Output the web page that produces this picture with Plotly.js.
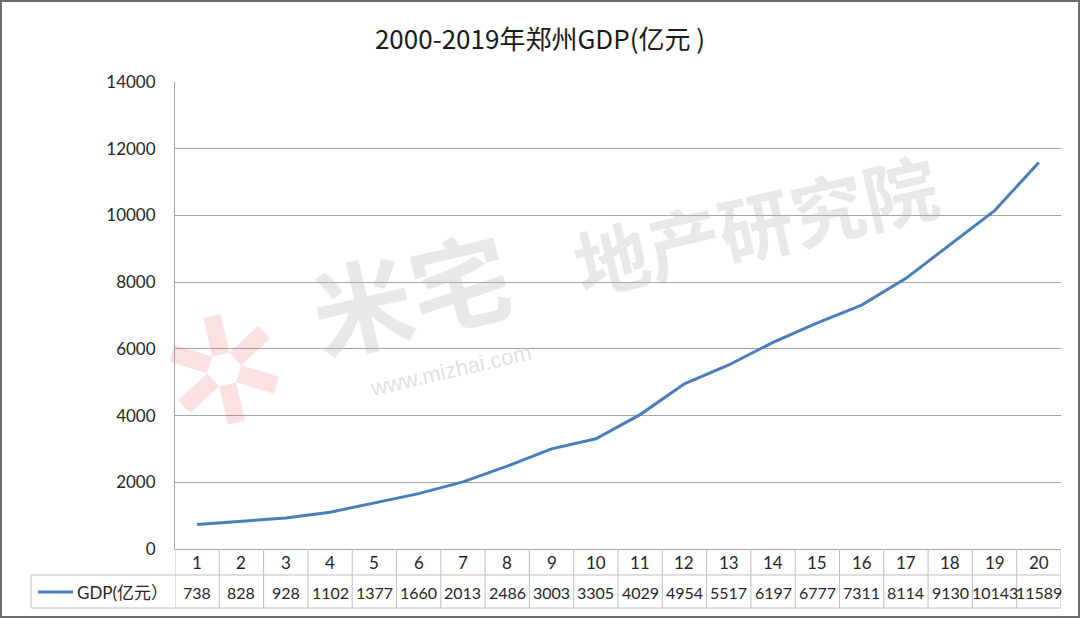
<!DOCTYPE html>
<html>
<head>
<meta charset="utf-8">
<script src="https://cdn.plot.ly/plotly-3.0.1.min.js"></script>
<style>
  html, body { margin: 0; padding: 0; background: #fff; }
  #wrap { position: relative; width: 1080px; height: 618px; }
  #chart { width: 1080px; height: 618px; }
  #frame { position: absolute; left: 0; top: 0; width: 1080px; height: 618px;
           box-sizing: border-box; border: 2px solid #6e6e6e; pointer-events: none; }
</style>
</head>
<body>
<div id="wrap">
  <div id="chart"></div>
  <div id="frame"></div>
</div>
<script>
const TITLE = '2000-2019年郑州GDP(亿元 )'
const SERIES_NAME = 'GDP(亿元）'
const categories = ['1', '2', '3', '4', '5', '6', '7', '8', '9', '10',
  '11', '12', '13', '14', '15', '16', '17', '18', '19', '20']
const gdp = [738, 828, 928, 1102, 1377, 1660, 2013, 2486, 3003, 3305,
  4029, 4954, 5517, 6197, 6777, 7311, 8114, 9130, 10143, 11589]

const LINE_COLOR = '#4a7ebb'
const GRID_COLOR = '#a6a6a6'
const TABLE_COLOR = '#bfbfbf'
const FONT = 'Lato, Noto Sans CJK SC, sans-serif'
const FS = 17

// plot area in pixels, used to place the data table rows in paper units
const M = {l: 175, r: 19, t: 82, b: 69}
const plotH = 618 - M.t - M.b
const plotW = 1080 - M.l - M.r
const py = (p) => (618 - M.b - p) / plotH
const px = (p) => (p - M.l) / plotW

const xs = categories.map((c, i) => i + 1)

const row1 = py(562)
const row2 = py(592)
const lineMid = py(575)
const lineBot = py(608)
const tableLeft = px(31)

const annotations = []
categories.forEach((c, i) => {
  annotations.push({x: xs[i], y: row1, xref: 'x', yref: 'paper', text: c, showarrow: false,
    font: {size: FS, color: '#262626', family: FONT}, xanchor: 'center', yanchor: 'middle'})
  annotations.push({x: xs[i], y: row2, xref: 'x', yref: 'paper', text: String(gdp[i]), showarrow: false,
    font: {size: 16, color: '#262626', family: FONT}, xanchor: 'center', yanchor: 'middle'})
})
annotations.push({x: px(75), y: row2, xref: 'paper', yref: 'paper', text: SERIES_NAME, showarrow: false,
  font: {size: 17, color: '#262626', family: FONT}, xanchor: 'left', yanchor: 'middle'})

// faint watermark
const WM = 'rgba(185,185,185,0.32)'
const wm = (x, y, text, size, color, family) => annotations.push({
  x: px(x), y: py(y), xref: 'paper', yref: 'paper', text, showarrow: false,
  xanchor: 'center', yanchor: 'middle', textangle: -13, font: {size, color, family}})
wm(410, 290, '<b>米宅</b>', 100, WM, 'Noto Sans CJK SC')
wm(755, 222, '<b>地产研究院</b>', 74, WM, 'Noto Sans CJK SC')
wm(450, 370, 'www.mizhai.com', 22, 'rgba(185,185,185,0.45)', 'Liberation Sans')
wm(225, 372, '<b>✲</b>', 150, 'rgba(235,110,110,0.2)', 'DejaVu Sans')

const shapes = []
const tl = {color: TABLE_COLOR, width: 1}
shapes.push({type: 'line', xref: 'paper', yref: 'paper', x0: tableLeft, x1: 1, y0: lineMid, y1: lineMid, line: tl})
shapes.push({type: 'line', xref: 'paper', yref: 'paper', x0: tableLeft, x1: 1, y0: lineBot, y1: lineBot, line: tl})
shapes.push({type: 'line', xref: 'paper', yref: 'paper', x0: tableLeft, x1: tableLeft, y0: lineMid, y1: lineBot, line: tl})
for (let k = 0; k <= categories.length; k++) {
  shapes.push({type: 'line', xref: 'x', yref: 'paper', x0: k + 0.5, x1: k + 0.5, y0: 0, y1: lineBot, line: tl})
}
// legend key in the table
shapes.push({type: 'line', xref: 'paper', yref: 'paper', x0: px(38), x1: px(73), y0: row2, y1: row2,
  line: {color: LINE_COLOR, width: 3}})

const data = [{
  x: xs,
  y: gdp,
  type: 'scatter',
  mode: 'lines',
  name: SERIES_NAME,
  line: {color: LINE_COLOR, width: 3},
  hoverinfo: 'x+y'
}]

const layout = {
  width: 1080,
  height: 618,
  margin: M,
  paper_bgcolor: '#fff',
  plot_bgcolor: '#fff',
  showlegend: false,
  font: {family: FONT, color: '#262626'},
  title: {text: TITLE, x: 0.5, xref: 'container', xanchor: 'center', y: 0.935, yanchor: 'middle',
    font: {size: 26, color: '#1a1a1a', family: 'Noto Sans CJK SC'}},
  xaxis: {
    range: [0.5, categories.length + 0.5],
    showgrid: false,
    zeroline: false,
    showticklabels: false,
    ticks: '',
    showline: true,
    linecolor: GRID_COLOR,
    linewidth: 1,
    fixedrange: true
  },
  yaxis: {
    range: [0, 14000],
    dtick: 2000,
    tickformat: 'd',
    showgrid: true,
    gridcolor: GRID_COLOR,
    gridwidth: 1,
    zeroline: false,
    showline: true,
    linecolor: GRID_COLOR,
    ticks: 'outside',
    ticklen: 15,
    tickcolor: 'rgba(0,0,0,0)',
    tickfont: {size: FS, color: '#262626', family: FONT},
    fixedrange: true
  },
  annotations,
  shapes
}

Plotly.newPlot('chart', data, layout, {displayModeBar: false, staticPlot: true})
</script>
</body>
</html>
